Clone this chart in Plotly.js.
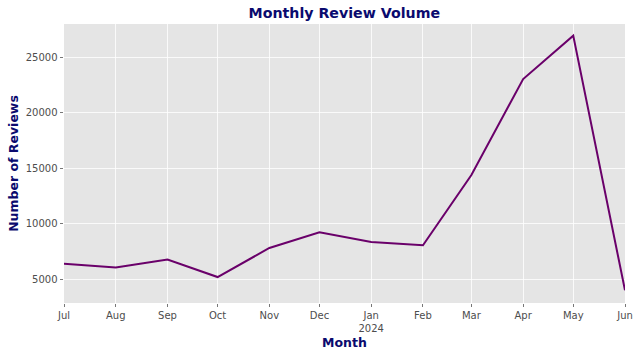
<!DOCTYPE html>
<html>
<head>
<meta charset="utf-8">
<script src="https://cdn.plot.ly/plotly-3.0.1.min.js"></script>
<style>html,body{margin:0;padding:0;background:#fff;}#chart{width:640px;height:356px;}</style>
</head>
<body>
<div id="chart"></div>
<script>
const months = ['2023-07-01','2023-08-01','2023-09-01','2023-10-01','2023-11-01','2023-12-01','2024-01-01','2024-02-01','2024-03-01','2024-04-01','2024-05-01','2024-06-01'];
const reviews = [6400, 6050, 6780, 5200, 7820, 9240, 8350, 8070, 14400, 23050, 26960, 4000];
const tickLabels = ['Jul','Aug','Sep','Oct','Nov','Dec','Jan<br>2024','Feb','Mar','Apr','May','Jun'];
const yTicks = [5000, 10000, 15000, 20000, 25000];

const trace = {
  x: months, y: reviews, type: 'scatter', mode: 'lines',
  line: {color: '#6a006a', width: 2}, hoverinfo: 'skip'
};
const layout = {
  width: 640, height: 356,
  margin: {l: 64, r: 15, t: 24, b: 53},
  paper_bgcolor: '#ffffff', plot_bgcolor: '#e5e5e5',
  font: {family: 'DejaVu Sans', color: '#4d4d4d', size: 10},
  showlegend: false,
  title: {text: '<b>Monthly Review Volume</b>', font: {family: 'DejaVu Sans', size: 14.2, color: '#0a0a6e'},
          x: 0.538, xanchor: 'center', y: 0.963, yanchor: 'middle'},
  xaxis: {
    type: 'date', range: ['2023-07-01', '2024-06-01'],
    tickvals: months, ticktext: tickLabels,
    showgrid: true, gridcolor: '#ffffff', gridwidth: 0.8,
    ticks: 'outside', ticklen: 3, tickcolor: '#555555', tickwidth: 0.8,
    tickfont: {size: 10, color: '#4d4d4d'},
    zeroline: false, showline: false,
    title: {text: '<b>Month</b>', font: {family: 'DejaVu Sans', size: 12.5, color: '#0a0a6e'}, standoff: 5}
  },
  yaxis: {
    range: [2860, 28010],
    tickvals: yTicks, ticktext: yTicks.map(String),
    showgrid: true, gridcolor: '#ffffff', gridwidth: 0.8,
    ticks: 'outside', ticklen: 3.5, tickcolor: '#555555', tickwidth: 0.8,
    tickfont: {size: 10, color: '#4d4d4d'},
    zeroline: false, showline: false,
    title: {text: '<b>Number of Reviews</b>', font: {family: 'DejaVu Sans', size: 12.5, color: '#0a0a6e'}, standoff: 4}
  }
};
Plotly.newPlot('chart', [trace], layout, {staticPlot: true, displayModeBar: false});
</script>
</body>
</html>
